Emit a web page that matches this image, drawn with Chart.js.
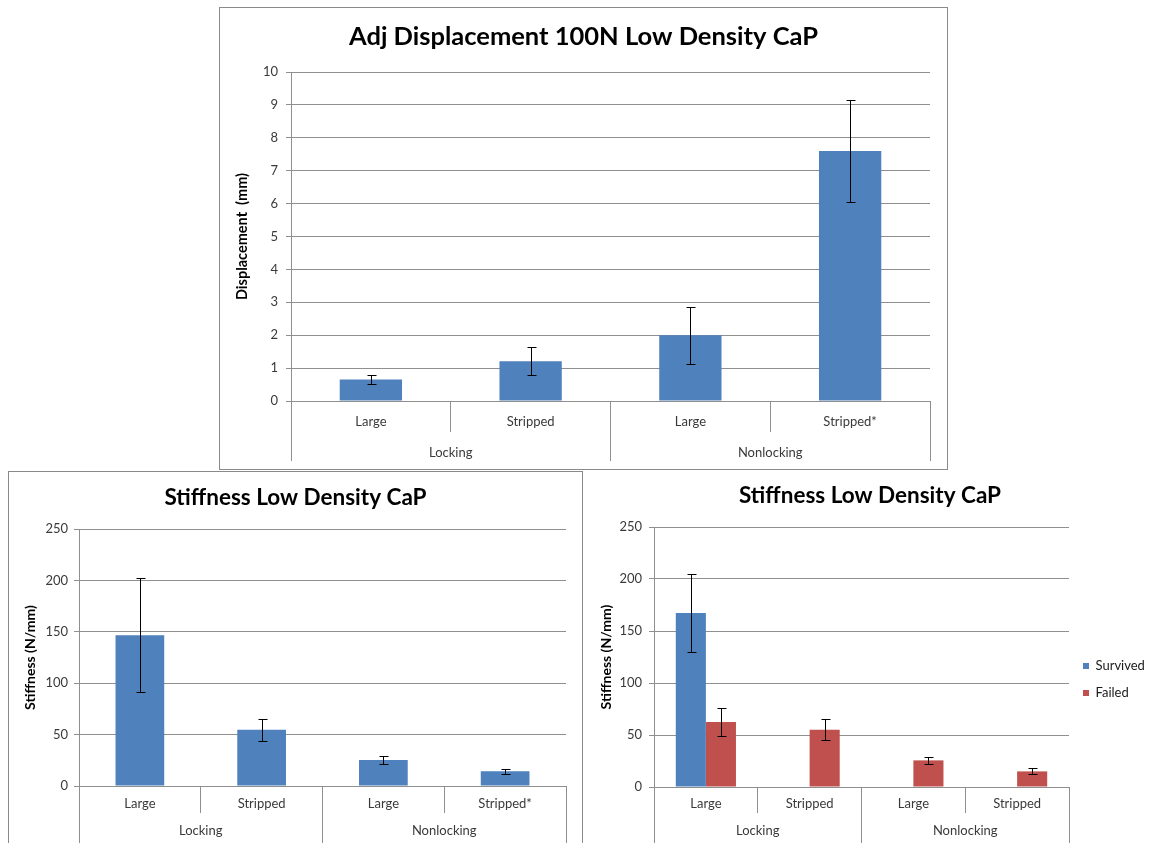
<!DOCTYPE html>
<html>
<head>
<meta charset="utf-8">
<title>Low Density CaP</title>
<script src="https://cdn.jsdelivr.net/npm/chart.js@4.4.1/dist/chart.umd.min.js"></script>
<style>
  html, body { margin: 0; padding: 0; background: #fff; }
  body { position: relative; width: 1155px; height: 843px; overflow: hidden; }
  .frame { position: absolute; box-sizing: border-box; border: 1px solid #8a8a8a; background: #fff; }
  canvas { position: absolute; display: block; }
</style>
</head>
<body>
<div class="frame" style="left:219px; top:7px; width:729px; height:463px;">
  <canvas id="displacementChart" width="727" height="461" style="left:0; top:0;"></canvas>
</div>
<div class="frame" style="left:8px; top:471px; width:575px; height:400px;">
  <canvas id="stiffnessChart" width="573" height="378" style="left:0; top:0;"></canvas>
</div>
<canvas id="stiffnessSplitChart" width="570" height="415" style="left:585px; top:472px;"></canvas>

<script>
// categories
const categories = ["Large", "Stripped", "Large", "Stripped*"];
const categoriesSplit = ["Large", "Stripped", "Large", "Stripped"];
const groups = ["Locking", "Nonlocking"];

// adj displacement at 100N (mm), mean and +/- error
const displacement = [0.65, 1.21, 2.0, 7.6];
const displacementErr = [0.14, 0.42, 0.87, 1.56];

// stiffness (N/mm), all specimens
const stiffness = [146.6, 54.6, 25.3, 14.3];
const stiffnessErr = [55.5, 10.5, 3.7, 2.5];

// stiffness (N/mm), split survived / failed
const survived = [167.3, null, null, null];
const survivedErr = [37.5, null, null, null];
const failed = [62.5, 55.1, 25.6, 15.0];
const failedErr = [13.6, 10.3, 3.5, 2.9];

// y axis ticks
const displacementMax = 10;
const displacementStep = 1;
const stiffnessMax = 250;
const stiffnessStep = 50;

const BLUE = "#4F81BD";
const RED = "#C0504D";
const GRID = "#8f8f8f";
const TEXT = "#3a3a3a";

Chart.defaults.font.family = "Lato, 'Open Sans', sans-serif";
Chart.defaults.color = TEXT;

const errorBarsPlugin = {
  id: "errorBars",
  afterDatasetsDraw(chart) {
    const ctx = chart.ctx;
    const yScale = chart.scales.y;
    chart.data.datasets.forEach((ds, di) => {
      const meta = chart.getDatasetMeta(di);
      if (!ds.errors || meta.hidden) return;
      meta.data.forEach((bar, i) => {
        const v = ds.data[i];
        const e = ds.errors[i];
        if (v == null || e == null) return;
        const x = Math.round(bar.x) + 0.5;
        const top = Math.round(yScale.getPixelForValue(v + e)) + 0.5;
        const bot = Math.round(yScale.getPixelForValue(v - e)) + 0.5;
        ctx.save();
        ctx.strokeStyle = "#000";
        ctx.lineWidth = 1;
        ctx.beginPath();
        ctx.moveTo(x, top);
        ctx.lineTo(x, bot);
        ctx.moveTo(x - 4, top);
        ctx.lineTo(x + 5, top);
        ctx.moveTo(x - 4, bot);
        ctx.lineTo(x + 5, bot);
        ctx.stroke();
        ctx.restore();
      });
    });
  }
};

function makeChart(canvasId, opts) {
  const g = opts.geometry;
  const tickFont = { size: 13, lineHeight: 1.2 };

  return new Chart(document.getElementById(canvasId), {
    type: "bar",
    data: {
      labels: opts.labels,
      datasets: opts.datasets
    },
    options: {
      responsive: false,
      animation: false,
      devicePixelRatio: 1,
      // left/right padding kept equal so the title centres on the whole box
      layout: {
        padding: { left: g.padSide, top: 0, right: g.padSide, bottom: g.padBottom }
      },
      plugins: {
        title: {
          display: true,
          text: opts.title,
          color: "#000",
          font: { size: g.titleSize, weight: "bold", lineHeight: 1.2 },
          padding: { top: g.titleTop, bottom: g.titleBottom }
        },
        legend: opts.legend || { display: false },
        tooltip: { enabled: false }
      },
      scales: {
        x: {
          type: "category",
          position: "bottom",
          offset: true,
          grid: {
            offset: true,
            drawOnChartArea: false,
            drawTicks: true,
            tickLength: g.x1Height,
            color: GRID
          },
          border: { display: true, color: GRID },
          ticks: {
            padding: g.x1Pad,
            autoSkip: false,
            maxRotation: 0,
            minRotation: 0,
            color: TEXT,
            font: tickFont
          },
          afterFit: scale => { scale.height = g.x1Height; }
        },
        x2: {
          type: "category",
          labels: groups,
          position: "bottom",
          offset: true,
          grid: {
            offset: true,
            drawOnChartArea: false,
            drawTicks: true,
            tickLength: g.x2Height,
            color: GRID
          },
          border: { display: false },
          ticks: {
            padding: g.x2Pad,
            autoSkip: false,
            maxRotation: 0,
            minRotation: 0,
            color: TEXT,
            font: tickFont
          },
          afterFit: scale => { scale.height = g.x2Height; }
        },
        y: {
          min: 0,
          max: opts.yMax,
          ticks: {
            stepSize: opts.yStep,
            padding: g.yTickPad,
            color: TEXT,
            font: tickFont
          },
          grid: { color: GRID, tickLength: 5, drawTicks: true },
          border: { display: true, color: GRID },
          title: {
            display: true,
            text: opts.yTitle,
            color: "#000",
            font: { size: g.yTitleSize, weight: "bold", lineHeight: 1.2 },
            padding: { top: g.yTitlePad, bottom: 0 }
          },
          afterFit: scale => { scale.width = g.yWidth; }
        }
      }
    },
    plugins: [errorBarsPlugin]
  });
}

makeChart("displacementChart", {
  title: "Adj Displacement 100N Low Density CaP",
  yTitle: "Displacement  (mm)",
  labels: categories,
  yMax: displacementMax,
  yStep: displacementStep,
  datasets: [{
    label: "Displacement",
    data: displacement,
    errors: displacementErr,
    backgroundColor: BLUE,
    borderWidth: 0,
    categoryPercentage: 0.39,
    barPercentage: 1
  }],
  geometry: {
    titleSize: 25.5, titleTop: 13.7, titleBottom: 19.7,
    yWidth: 54, yTitleSize: 14.5, yTitlePad: -3.7, yTickPad: 8,
    x1Height: 31, x1Pad: -17.5,
    x2Height: 29, x2Pad: -16.3,
    padSide: 17, padBottom: 8
  }
});

makeChart("stiffnessChart", {
  title: "Stiffness Low Density CaP",
  yTitle: "Stiffness (N/mm)",
  labels: categories,
  yMax: stiffnessMax,
  yStep: stiffnessStep,
  datasets: [{
    label: "Stiffness",
    data: stiffness,
    errors: stiffnessErr,
    backgroundColor: BLUE,
    borderWidth: 0,
    categoryPercentage: 0.4,
    barPercentage: 1
  }],
  geometry: {
    titleSize: 22.5, titleTop: 12.5, titleBottom: 17.5,
    yWidth: 54, yTitleSize: 14, yTitlePad: -3.4, yTickPad: 6,
    x1Height: 27, x1Pad: -17.3,
    x2Height: 37, x2Pad: -27.3,
    padSide: 16, padBottom: 0
  }
});

makeChart("stiffnessSplitChart", {
  title: "Stiffness Low Density CaP",
  yTitle: "Stiffness (N/mm)",
  labels: categoriesSplit,
  yMax: stiffnessMax,
  yStep: stiffnessStep,
  datasets: [{
    label: "Survived",
    data: survived,
    errors: survivedErr,
    backgroundColor: BLUE,
    borderWidth: 0,
    categoryPercentage: 0.58,
    barPercentage: 1
  }, {
    label: "Failed",
    data: failed,
    errors: failedErr,
    backgroundColor: RED,
    borderWidth: 0,
    categoryPercentage: 0.58,
    barPercentage: 1
  }],
  legend: {
    display: true,
    position: "right",
    maxWidth: 80,
    labels: {
      boxWidth: 6,
      boxHeight: 6,
      padding: 14,
      color: "#1a1a1a",
      font: { size: 13 }
    }
  },
  geometry: {
    titleSize: 22.5, titleTop: 10.5, titleBottom: 17.5,
    yWidth: 63, yTitleSize: 14, yTitlePad: 6.6, yTickPad: 7,
    x1Height: 26, x1Pad: -16.8,
    x2Height: 74, x2Pad: -63.8,
    padSide: 6, padBottom: 0
  }
});
</script>
</body>
</html>
